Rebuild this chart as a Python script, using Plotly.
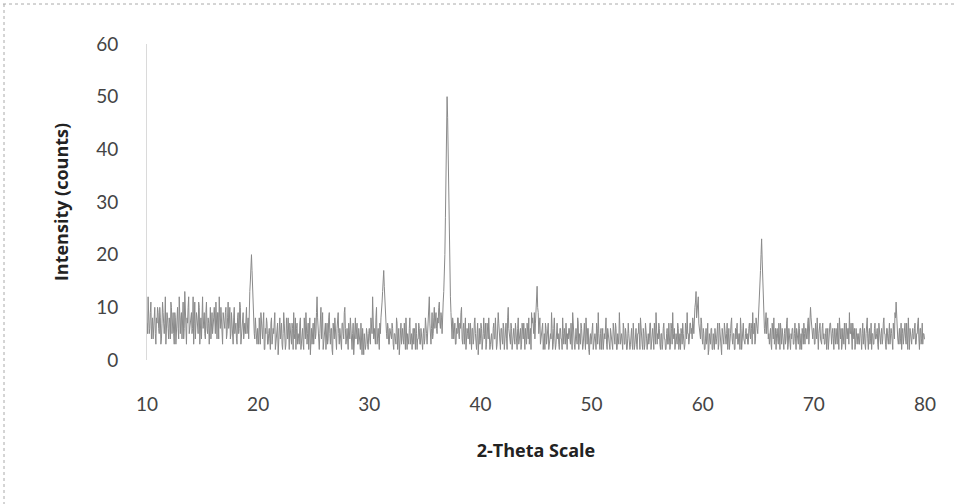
import plotly.graph_objects as go

# 2-theta start and step (degrees)
theta_start = 10.0
theta_step = 0.05

# Intensity (counts) at x.0, x.1, ... x.9 for each degree
intensity_rows = [
    [7, 12, 5, 9, 4, 8, 6, 10, 3, 7],      # 10
    [9, 5, 8, 4, 11, 6, 7, 3, 9, 6],       # 11
    [8, 4, 10, 7, 5, 9, 3, 8, 6, 12],      # 12
    [5, 9, 7, 4, 13, 6, 8, 10, 5, 7],      # 13
    [9, 6, 3, 11, 7, 8, 5, 10, 6, 4],      # 14
    [12, 7, 5, 9, 6, 8, 3, 10, 7, 5],      # 15
    [8, 6, 11, 4, 9, 12, 6, 7, 3, 8],      # 16
    [6, 10, 5, 11, 7, 4, 9, 6, 8, 5],      # 17
    [7, 3, 9, 6, 10, 5, 8, 4, 7, 9],       # 18
    [5, 8, 11, 15, 20, 13, 7, 4, 6, 3],    # 19
    [5, 8, 3, 6, 4, 9, 2, 5, 7, 3],        # 20
    [6, 2, 8, 4, 5, 9, 3, 6, 1, 5],        # 21
    [4, 7, 2, 9, 5, 3, 6, 8, 2, 5],        # 22
    [3, 6, 9, 4, 2, 7, 5, 3, 8, 4],        # 23
    [6, 2, 5, 9, 3, 7, 4, 1, 6, 5],        # 24
    [3, 8, 5, 12, 6, 2, 7, 4, 9, 3],       # 25
    [5, 2, 7, 4, 9, 3, 6, 1, 5, 8],        # 26
    [4, 6, 9, 3, 5, 2, 7, 4, 10, 3],       # 27
    [6, 2, 5, 8, 3, 5, 1, 6, 4, 7],        # 28
    [3, 5, 2, 4, 6, 1, 4, 3, 5, 2],        # 29
    [6, 3, 7, 12, 4, 5, 8, 3, 6, 2],       # 30
    [5, 9, 13, 17, 11, 7, 4, 6, 3, 5],     # 31
    [4, 6, 2, 5, 3, 7, 4, 1, 5, 3],        # 32
    [6, 3, 5, 8, 2, 4, 6, 3, 5, 4],        # 33
    [3, 5, 7, 2, 4, 6, 3, 5, 2, 6],        # 34
    [4, 7, 3, 9, 12, 5, 6, 4, 8, 6],       # 35
    [9, 5, 7, 11, 6, 8, 10, 13, 20, 35],   # 36
    [50, 38, 22, 12, 6, 8, 4, 7, 3, 5],    # 37
    [8, 4, 6, 10, 3, 7, 5, 2, 6, 4],       # 38
    [5, 7, 2, 6, 4, 8, 3, 5, 1, 6],        # 39
    [4, 6, 3, 8, 5, 2, 7, 4, 6, 3],        # 40
    [5, 2, 7, 4, 6, 3, 9, 5, 2, 6],        # 41
    [3, 6, 4, 7, 2, 10, 5, 3, 6, 4],       # 42
    [6, 3, 5, 2, 8, 4, 6, 3, 5, 7],        # 43
    [2, 5, 7, 4, 3, 6, 9, 8, 5, 4],        # 44
    [11, 14, 9, 6, 3, 5, 7, 4, 2, 6],      # 45
    [4, 7, 3, 5, 9, 2, 6, 4, 3, 7],        # 46
    [5, 2, 6, 4, 8, 3, 5, 7, 2, 4],        # 47
    [6, 3, 5, 9, 4, 2, 6, 3, 7, 5],        # 48
    [3, 6, 2, 5, 4, 8, 3, 6, 1, 5],        # 49
    [4, 7, 3, 5, 2, 6, 9, 3, 5, 2],        # 50
    [6, 3, 4, 8, 2, 5, 3, 6, 4, 2],        # 51
    [5, 3, 6, 2, 4, 9, 3, 5, 2, 6],        # 52
    [3, 5, 2, 7, 4, 3, 6, 2, 5, 3],        # 53
    [6, 2, 5, 3, 8, 4, 2, 5, 3, 6],        # 54
    [2, 5, 4, 7, 3, 6, 2, 5, 9, 3],        # 55
    [4, 6, 2, 5, 3, 7, 4, 2, 6, 3],        # 56
    [5, 3, 6, 9, 4, 2, 5, 3, 6, 4],        # 57
    [2, 5, 7, 4, 3, 6, 9, 5, 4, 7],        # 58
    [6, 8, 5, 10, 13, 9, 12, 6, 4, 7],     # 59
    [3, 5, 2, 6, 4, 1, 5, 3, 6, 2],        # 60
    [4, 6, 3, 5, 2, 7, 4, 1, 5, 3],        # 61
    [6, 3, 7, 4, 2, 5, 8, 3, 5, 2],        # 62
    [4, 7, 3, 5, 8, 2, 6, 4, 3, 6],        # 63
    [5, 3, 7, 4, 6, 9, 5, 3, 8, 6],        # 64
    [7, 11, 17, 23, 15, 8, 5, 9, 6, 4],    # 65
    [3, 6, 2, 5, 8, 4, 2, 6, 3, 5],        # 66
    [7, 3, 5, 2, 6, 4, 8, 3, 5, 2],        # 67
    [4, 6, 3, 7, 2, 5, 3, 6, 4, 2],        # 68
    [5, 7, 3, 6, 4, 8, 5, 10, 7, 4],       # 69
    [6, 3, 5, 8, 2, 6, 4, 3, 7, 5],        # 70
    [3, 6, 4, 2, 5, 7, 3, 6, 2, 5],        # 71
    [6, 3, 5, 8, 4, 2, 6, 3, 5, 7],        # 72
    [4, 6, 9, 5, 3, 7, 4, 2, 6, 3],        # 73
    [5, 3, 6, 2, 7, 4, 3, 5, 8, 2],        # 74
    [6, 4, 2, 5, 3, 7, 4, 6, 2, 5],        # 75
    [3, 6, 4, 8, 5, 2, 6, 3, 7, 4],        # 76
    [5, 2, 6, 9, 11, 5, 3, 6, 4, 2],       # 77
    [6, 4, 7, 3, 5, 8, 2, 5, 3, 6],        # 78
    [4, 7, 3, 5, 8, 2, 6, 4, 3, 5],        # 79
]

# Intensity (counts) at x.05, x.15, ... x.95 for each degree
intensity_mid_rows = [
    [5, 9, 6, 11, 7, 4, 9, 5, 8, 10],      # 10
    [6, 10, 3, 7, 9, 5, 12, 6, 8, 4],      # 11
    [7, 11, 5, 9, 3, 8, 6, 10, 4, 9],      # 12
    [8, 4, 11, 6, 9, 3, 7, 12, 6, 9],      # 13
    [5, 12, 7, 4, 9, 6, 11, 3, 8, 7],      # 14
    [6, 9, 4, 11, 5, 7, 10, 4, 9, 6],      # 15
    [10, 5, 7, 9, 4, 8, 10, 5, 9, 6],      # 16
    [9, 4, 8, 6, 10, 5, 7, 3, 10, 6],      # 17
    [4, 8, 5, 11, 3, 7, 9, 6, 5, 10],      # 18
    [7, 4, 13, 18, 17, 10, 5, 8, 3, 6],    # 19
    [3, 6, 9, 4, 7, 2, 6, 8, 3, 5],        # 20
    [4, 7, 3, 6, 8, 2, 5, 7, 4, 8],        # 21
    [6, 3, 5, 7, 2, 8, 4, 3, 7, 4],        # 22
    [7, 2, 5, 8, 6, 3, 4, 7, 2, 6],        # 23
    [3, 8, 4, 6, 5, 2, 8, 5, 3, 7],        # 24
    [7, 4, 9, 8, 3, 5, 10, 6, 2, 5],       # 25
    [7, 4, 3, 8, 5, 6, 2, 7, 4, 6],        # 26
    [2, 8, 5, 6, 3, 7, 5, 9, 6, 4],        # 27
    [3, 7, 4, 6, 2, 7, 4, 8, 5, 3],        # 28
    [6, 3, 7, 1, 4, 5, 2, 6, 3, 5],        # 29
    [4, 8, 5, 9, 6, 3, 10, 5, 4, 7],       # 30
    [8, 11, 16, 14, 9, 5, 7, 3, 6, 4],     # 31
    [7, 3, 5, 4, 8, 2, 6, 3, 7, 4],        # 32
    [4, 7, 2, 6, 5, 3, 8, 4, 2, 6],        # 33
    [6, 2, 5, 4, 7, 3, 6, 4, 5, 3],        # 34
    [8, 5, 6, 11, 7, 3, 9, 5, 10, 7],      # 35
    [6, 8, 10, 7, 9, 5, 11, 16, 27, 44],   # 36
    [46, 30, 16, 9, 4, 7, 5, 3, 6, 8],     # 37
    [5, 7, 9, 4, 6, 3, 8, 4, 5, 7],        # 38
    [3, 4, 6, 3, 7, 5, 2, 7, 4, 3],        # 39
    [7, 2, 5, 4, 7, 3, 5, 8, 2, 5],        # 40
    [3, 6, 4, 8, 2, 5, 7, 3, 6, 4],        # 41
    [7, 2, 5, 4, 8, 6, 3, 7, 2, 5],        # 42
    [4, 7, 2, 6, 3, 5, 2, 7, 4, 3],        # 43
    [6, 3, 4, 8, 5, 2, 7, 5, 9, 7],        # 44
    [13, 10, 5, 8, 4, 6, 2, 5, 7, 3],      # 45
    [6, 2, 5, 4, 6, 3, 8, 2, 5, 4],        # 46
    [3, 6, 4, 2, 5, 6, 3, 4, 5, 6],        # 47
    [4, 7, 2, 6, 3, 5, 4, 8, 2, 4],        # 48
    [7, 4, 3, 7, 2, 5, 6, 2, 4, 3],        # 49
    [6, 2, 5, 4, 7, 3, 5, 2, 6, 4],        # 50
    [2, 5, 7, 3, 6, 4, 2, 5, 3, 7],        # 51
    [3, 7, 2, 5, 3, 6, 4, 2, 7, 3],        # 52
    [6, 2, 4, 5, 2, 6, 3, 7, 2, 5],        # 53
    [3, 5, 7, 2, 5, 3, 6, 2, 7, 4],        # 54
    [5, 3, 7, 2, 5, 4, 7, 3, 6, 5],        # 55
    [7, 3, 5, 2, 6, 4, 2, 5, 3, 7],        # 56
    [2, 7, 3, 5, 6, 3, 4, 7, 2, 5],        # 57
    [6, 3, 5, 2, 7, 4, 5, 3, 7, 5],        # 58
    [4, 7, 9, 11, 8, 11, 7, 5, 8, 4],      # 59
    [6, 2, 4, 3, 7, 2, 4, 6, 2, 5],        # 60
    [2, 5, 4, 7, 3, 5, 2, 6, 4, 7],        # 61
    [4, 5, 2, 6, 3, 7, 4, 5, 2, 6],        # 62
    [6, 3, 5, 2, 6, 4, 7, 3, 5, 4],        # 63
    [3, 6, 5, 7, 3, 5, 7, 4, 6, 5],        # 64
    [9, 14, 20, 19, 11, 6, 7, 5, 8, 5],    # 65
    [5, 3, 7, 4, 3, 6, 5, 4, 7, 2],        # 66
    [4, 6, 3, 5, 3, 7, 2, 6, 4, 5],        # 67
    [6, 3, 5, 4, 6, 3, 7, 2, 5, 6],        # 68
    [3, 5, 6, 4, 7, 3, 6, 8, 5, 6],        # 69
    [3, 7, 4, 2, 5, 7, 3, 6, 4, 3],        # 70
    [5, 2, 6, 4, 7, 3, 5, 4, 6, 3],        # 71
    [4, 7, 2, 5, 6, 3, 4, 7, 2, 5],        # 72
    [6, 3, 5, 7, 2, 5, 6, 3, 4, 5],        # 73
    [3, 6, 4, 5, 3, 6, 2, 7, 4, 5],        # 74
    [3, 7, 5, 3, 6, 4, 5, 3, 7, 4],        # 75
    [5, 3, 7, 5, 3, 6, 4, 5, 3, 6],        # 76
    [3, 7, 4, 8, 7, 4, 5, 3, 7, 5],        # 77
    [3, 6, 4, 7, 2, 5, 6, 3, 5, 4],        # 78
    [6, 3, 5, 7, 4, 6, 3, 7, 5, 4],        # 79
]

intensity_end = [4]   # at 80.0

x_ticks = [10, 20, 30, 40, 50, 60, 70, 80]
y_ticks = [0, 10, 20, 30, 40, 50, 60]

intensity = []
for row, mid in zip(intensity_rows, intensity_mid_rows):
    for a, b in zip(row, mid):
        intensity.extend([a, b])
intensity.extend(intensity_end)
two_theta = [round(theta_start + i * theta_step, 3) for i in range(len(intensity))]

fig = go.Figure()
fig.add_trace(go.Scatter(
    x=two_theta, y=intensity, mode="lines",
    line=dict(color="#8a8a8a", width=1),
    showlegend=False,
))

L, R, T, B = 147, 34, 44, 144
W, H = 959, 504

fig.update_layout(
    width=W, height=H,
    margin=dict(l=L, r=R, t=T, b=B, pad=0),
    paper_bgcolor="white", plot_bgcolor="white",
    font=dict(family="Lato", color="#444"),
    xaxis=dict(
        range=[10, 80], tickvals=x_ticks, ticktext=[str(v) for v in x_ticks],
        showgrid=False, zeroline=False, showline=False, ticks="",
        tickfont=dict(size=19, family="Lato", color="#444"),
        ticklabelstandoff=31,
        title=dict(text="<b>2-Theta Scale</b>", standoff=30,
                   font=dict(size=18, family="Open Sans", color="#222")),
    ),
    yaxis=dict(
        range=[0, 60], tickvals=y_ticks, ticktext=[str(v) for v in y_ticks],
        showgrid=False, zeroline=False, showline=True, linecolor="#dadada", linewidth=1,
        ticks="",
        tickfont=dict(size=19, family="Lato", color="#444"),
        ticklabelstandoff=24,
        title=dict(text="<b>Intensity (counts)</b>", standoff=22,
                   font=dict(size=18, family="Open Sans", color="#222")),
    ),
    shapes=[
        dict(type="line", xref="paper", yref="paper",
             x0=(3 - L) / (W - L - R), x1=(W - 3 - L) / (W - L - R),
             y0=(H - 4 - B) / (H - T - B), y1=(H - 4 - B) / (H - T - B),
             line=dict(color="#aaaaaa", width=1, dash="dot")),
        dict(type="line", xref="paper", yref="paper",
             x0=(4 - L) / (W - L - R), x1=(4 - L) / (W - L - R),
             y0=(H - 4 - B) / (H - T - B), y1=(0 - B) / (H - T - B),
             line=dict(color="#aaaaaa", width=1, dash="dot")),
    ],
)

fig.write_html("out.html")
